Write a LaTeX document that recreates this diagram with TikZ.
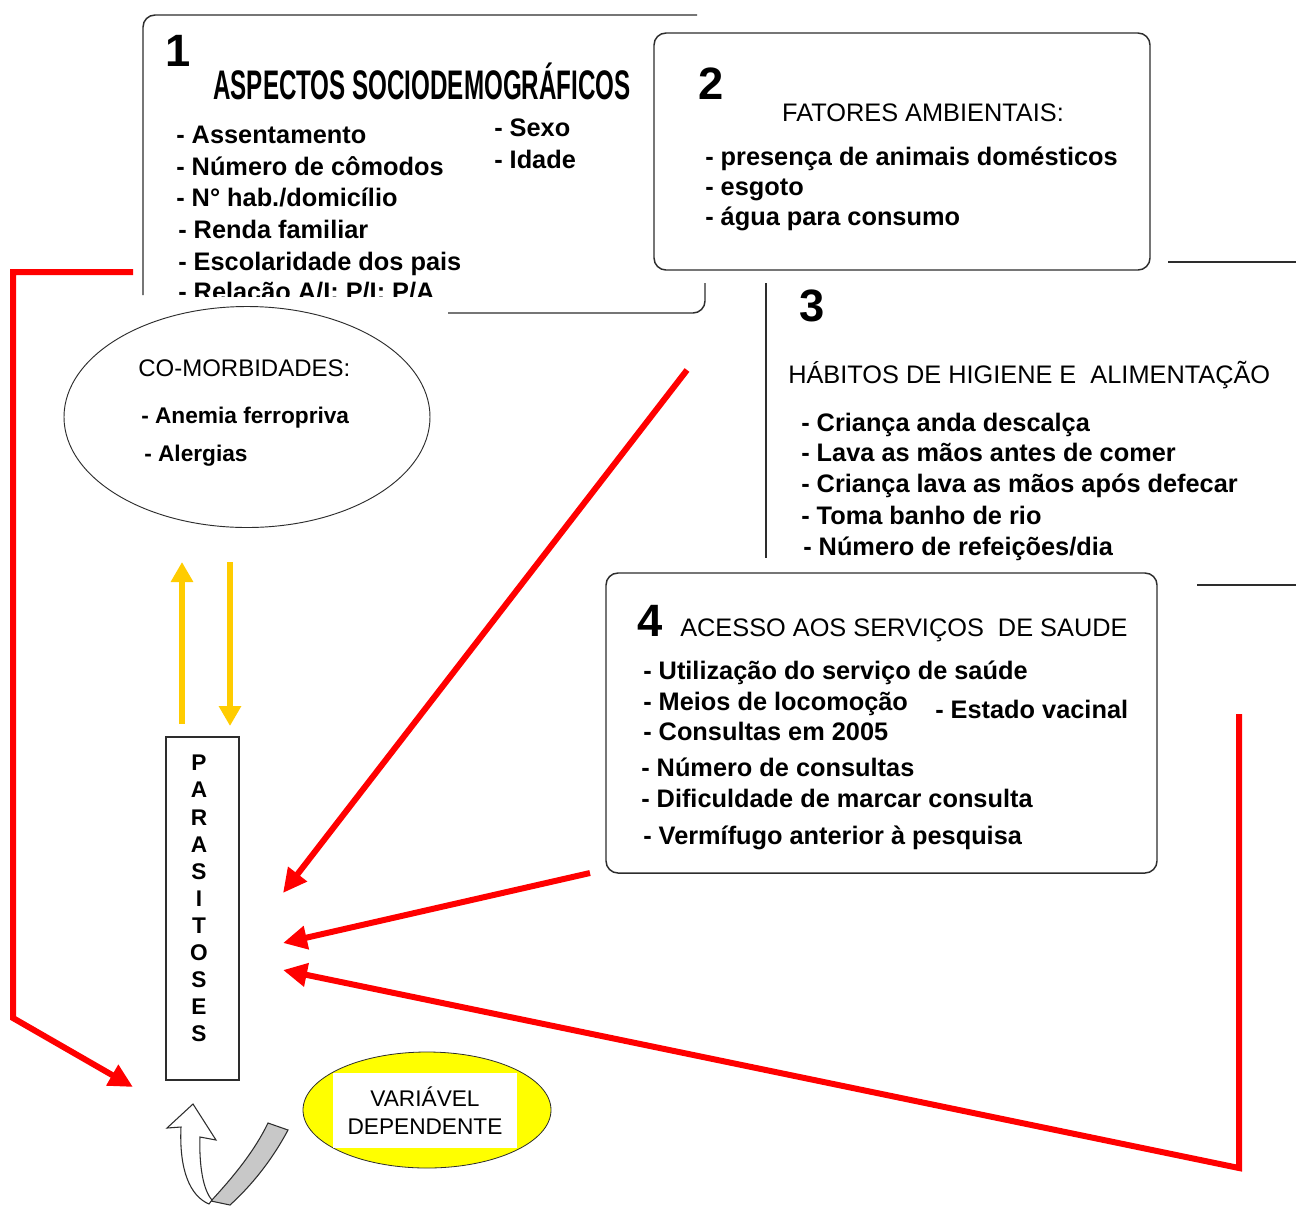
\documentclass[tikz,border=0pt]{standalone}
\usepackage{fontspec}
\setmainfont{Liberation Sans}
\usetikzlibrary{arrows.meta,shapes.geometric}
\definecolor{redarr}{RGB}{255,0,0}
\definecolor{goldarr}{RGB}{255,204,0}
\definecolor{yel}{RGB}{255,255,0}
\definecolor{edgec}{RGB}{45,45,45}
\definecolor{bandgray}{RGB}{200,200,200}
\begin{document}
\begin{tikzpicture}[x=0.75pt,y=-0.75pt,
  item/.style={anchor=base west, inner sep=0pt, font=\fontsize{19}{22}\selectfont\bfseries},
  ttl/.style={anchor=base west, inner sep=0pt, font=\fontsize{19}{22}\selectfont},
  num/.style={anchor=base, inner sep=0pt, font=\fontsize{34}{38}\selectfont\bfseries},
  frame/.style={draw=edgec, line width=1.1pt},
  boxr/.style={frame, rounded corners=9pt, fill=white, inner sep=0pt},
  redline/.style={draw=redarr, line width=4.5pt, -{Triangle[length=18pt,width=17pt]}},
  goldline/.style={draw=goldarr, line width=3.8pt, -{Triangle[length=15pt,width=16pt]}},
  letter/.style={anchor=center, inner sep=0pt, font=\fontsize{17}{20}\selectfont\bfseries}
]
\useasboundingbox (0,0) rectangle (1296,1208);
\fill[white] (0,0) rectangle (1296,1208);

% ---------- Box 1 (partially hidden) ----------
\draw[frame, rounded corners=9pt] (143,295) -- (143,15) -- (697,15);
\draw[frame, rounded corners=9pt] (705,283) -- (705,313) -- (448,313);
\node[num] (n1) at (178,66) {1};
\node[anchor=base, inner sep=0pt, font=\fontsize{31}{34}\selectfont\bfseries] (t1) at (422,99)
  {\scalebox{0.585}[1]{ASPECTOS SOCIODEMOGRÁFICOS}};
\node[item] (a1) at (176,143) {- Assentamento};
\node[item] (a2) at (176,175) {- Número de cômodos};
\node[item] (a3) at (176,206) {- N° hab./domicílio};
\node[item] (a4) at (178,238) {- Renda familiar};
\node[item] (a5) at (178,270) {- Escolaridade dos pais};
\begin{scope}
  \clip (0,0) rectangle (1296,296);
  \node[item] (a6) at (178,300) {- Relação A/I; P/I; P/A};
\end{scope}
\node[item] (a7) at (494,136) {- Sexo};
\node[item] (a8) at (494,168) {- Idade};

% ---------- Box 2 ----------
\node[boxr, minimum width=372pt, minimum height=177.75pt] (b2) at (902,151.5) {};
\node[num] (n2) at (711,99) {2};
\node[anchor=base, inner sep=0pt, font=\fontsize{19}{22}\selectfont] (t2) at (923,121) {FATORES AMBIENTAIS:};
\node[item] (c1) at (705,165) {- presença de animais domésticos};
\node[item] (c2) at (705,195) {- esgoto};
\node[item] (c3) at (705,225) {- água para consumo};

% ---------- Box 3 (open frame) ----------
\draw[frame] (766,283) -- (766,558);
\draw[frame] (1168,262) -- (1296,262);
\draw[frame] (1197,585) -- (1296,585);
\node[num] (n3) at (812,321) {3};
\node[ttl] (t3) at (788,383) {HÁBITOS DE HIGIENE E \ ALIMENTAÇÃO};
\node[item] (h1) at (801,431) {- Criança anda descalça};
\node[item] (h2) at (801,461) {- Lava as mãos antes de comer};
\node[item] (h3) at (801,492) {- Criança lava as mãos após defecar};
\node[item] (h4) at (801,524) {- Toma banho de rio};
\node[item] (h5) at (803,555) {- Número de refeições/dia};

% ---------- Box 4 ----------
\node[boxr, minimum width=413.25pt, minimum height=225pt] (b4) at (881.5,723) {};
\node[num] (n4) at (650,636) {4};
\node[ttl] (t4) at (680,636) {ACESSO AOS SERVIÇOS \ DE SAUDE};
\node[item] (s1) at (643,679) {- Utilização do serviço de saúde};
\node[item] (s2) at (643,710) {- Meios de locomoção};
\node[item] (s3) at (643,740) {- Consultas em 2005};
\node[item] (s4) at (641,776) {- Número de consultas};
\node[item] (s5) at (641,807) {- Dificuldade de marcar consulta};
\node[item] (s6) at (643,844) {- Vermífugo anterior à pesquisa};
\node[item] (s7) at (935,718) {- Estado vacinal};

% ---------- Co-morbidades ----------
\node[ellipse, draw=edgec, line width=0.7pt, minimum width=274.5pt, minimum height=165.75pt, inner sep=0pt] (cm) at (247,417) {};
\node[anchor=base west, inner sep=0pt, font=\fontsize{18}{20}\selectfont] (cmt) at (138,376) {CO-MORBIDADES:};
\node[anchor=base west, inner sep=0pt, font=\fontsize{17}{20}\selectfont\bfseries] (cm1) at (141,423) {- Anemia ferropriva};
\node[anchor=base west, inner sep=0pt, font=\fontsize{17}{20}\selectfont\bfseries] (cm2) at (144,461) {- Alergias};

% ---------- Parasitoses ----------
\node[draw=edgec, line width=1.1pt, minimum width=54.75pt, minimum height=257.25pt, inner sep=0pt] (par) at (202.5,908.5) {};
\foreach \L [count=\i] in {P,A,R,A,S,I,T,O,S,E,S} {
  \node[letter] (p\i) at (199,{763+27.1*(\i-1)}) {\L};
}

% ---------- Yellow arrows ----------
\coordinate (ya1) at (182,724);
\coordinate (ya2) at (182,562);
\coordinate (yb1) at (230,562);
\coordinate (yb2) at (230,726);
\draw[goldline] (ya1) -- (ya2);
\draw[goldline] (yb1) -- (yb2);

% ---------- Variavel dependente ----------
\node[ellipse, fill=yel, draw=edgec, line width=0.6pt, minimum width=186pt, minimum height=87pt, inner sep=0pt] (ve) at (427,1110) {};
\node[fill=white, minimum width=138pt, minimum height=56.25pt, inner sep=0pt, align=center,
      font=\fontsize{17}{20.5}\selectfont] (vd) at (425,1110.5) {VARIÁVEL\\DEPENDENTE};

% ---------- Curved block arrow ----------
\draw[edgec, line width=0.8pt, fill=bandgray]
  (211,1201) .. controls (235,1175) and (255,1150) .. (268,1123)
  -- (288,1130) .. controls (272,1160) and (252,1185) .. (230,1205) -- cycle;
\draw[edgec, line width=0.8pt, fill=white]
  (193,1104) -- (216,1140) -- (200,1137)
  .. controls (199,1165) and (203,1190) .. (212,1200)
  -- (209,1204)
  .. controls (190,1196) and (179,1170) .. (181,1127)
  -- (167,1128) -- cycle;

% ---------- Red arrows ----------
\coordinate (r0s) at (133,272);
\coordinate (r0a) at (13,272);
\coordinate (r0b) at (13,1018);
\coordinate (r0t) at (133,1087);
\draw[redline, line join=miter] (r0s) -- (r0a) -- (r0b) -- (r0t);

\coordinate (r1s) at (687,370);
\coordinate (r1t) at (283,893);
\draw[redline] (r1s) -- (r1t);

\coordinate (r2s) at (590,873);
\coordinate (r2t) at (283,943);
\draw[redline] (r2s) -- (r2t);

\coordinate (r3s) at (1239,714);
\coordinate (r3a) at (1239,1168);
\coordinate (r3t) at (283,970);
\draw[redline, line join=miter] (r3s) -- (r3a) -- (r3t);
\end{tikzpicture}
\end{document}
